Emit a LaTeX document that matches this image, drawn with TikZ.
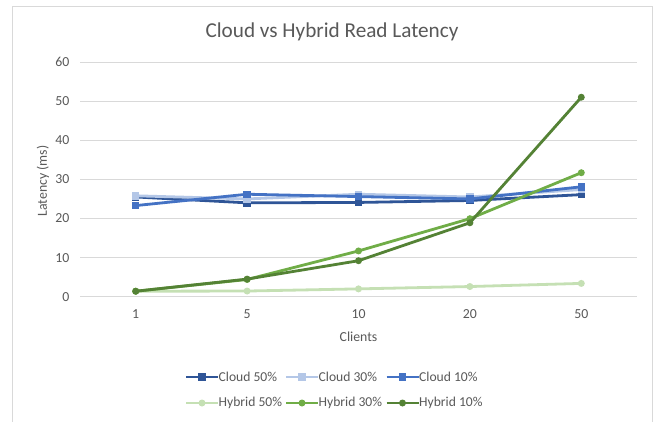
\documentclass[tikz,border=0pt]{standalone}
\usepackage{fontspec}
\setmainfont{Carlito}
\usetikzlibrary{calc}

\definecolor{txtgray}{HTML}{595959}
\definecolor{gridgray}{HTML}{D9D9D9}
\definecolor{framegray}{HTML}{D9D9D9}
\definecolor{cloudA}{HTML}{2F5597}
\definecolor{cloudB}{HTML}{B4C7E7}
\definecolor{cloudC}{HTML}{4472C4}
\definecolor{hybA}{HTML}{C5E0B4}
\definecolor{hybB}{HTML}{70AD47}
\definecolor{hybC}{HTML}{548235}

% one data series: colour, marker (sq/dot), name prefix, five values
\newcommand\plotseries[4]{%
  \foreach \v [count=\i] in {#4} {\coordinate (#3-\i) at ({px(\i)},{py(\v)});}
  \draw[serline,#1] (#3-1) -- (#3-2) -- (#3-3) -- (#3-4) -- (#3-5);
  \foreach \i in {1,...,5} {\pic[#1] at (#3-\i) {#2};}
}
% one legend entry: colour, marker, name, x, y, label
\newcommand\legentry[6]{%
  \coordinate (#3-a) at (#4,#5);
  \coordinate (#3-b) at (#4+32,#5);
  \draw[serline,#1] (#3-a) -- (#3-b);
  \pic[#1] at ($(#3-a)!0.5!(#3-b)$) {#2};
  \node[leglab,anchor=west] (#3-t) at (#4+32.5,#5) {#6};
}

\begin{document}
\begin{tikzpicture}[x=1pt,y=-1pt,
  declare function={px(\i)=80+111.4*(\i-0.5); py(\v)=296.7-3.911*\v;},
  serline/.style={line width=2.8pt,line join=round},
  sq/.pic={\fill (-3.7,-3.7) rectangle (3.7,3.7);},
  dot/.pic={\fill (0,0) circle (3.5);},
  ticklab/.style={text=txtgray,font=\fontsize{13.8}{16}\selectfont,inner sep=0pt},
  leglab/.style={text=txtgray,font=\fontsize{13.6}{16}\selectfont,inner sep=0pt},
  gridline/.style={gridgray,line width=1pt}]

\useasboundingbox (0,0) rectangle (654,421);
\fill[white] (0,0) rectangle (654,421);
\draw[framegray,line width=1pt] (12.5,6) rectangle (652,440);

% title
\node[text=txtgray,font=\fontsize{21.2}{24}\selectfont,inner sep=0pt] (title) at (332,32) {Cloud vs Hybrid Read Latency};

% horizontal gridlines and value labels
\foreach \v in {0,10,...,60} {
  \coordinate (gl\v) at (80,{py(\v)});
  \coordinate (gr\v) at (637,{py(\v)});
  \draw[gridline] (gl\v) -- (gr\v);
  \node[ticklab,anchor=east] (yl\v) at (69.5,{py(\v)}) {\v};
}

% category labels
\foreach \c [count=\i] in {1,5,10,20,50} {
  \node[ticklab] (xl\i) at ({px(\i)},314) {\c};
}

% axis titles
\node[ticklab] (xtitle) at (358.5,337) {Clients};
\node[ticklab,rotate=90] (ytitle) at (43,181) {Latency (ms)};

% data
\plotseries{cloudA}{sq}{cA}{25.5,24.0,24.1,24.6,26.1}
\plotseries{cloudB}{sq}{cB}{25.8,25.0,26.2,25.5,27.4}
\plotseries{cloudC}{sq}{cC}{23.3,26.2,25.6,25.0,28.1}
\plotseries{hybA}{dot}{hA}{1.4,1.45,2.0,2.6,3.4}
\plotseries{hybB}{dot}{hB}{1.4,4.4,11.7,19.95,31.7}
\plotseries{hybC}{dot}{hC}{1.4,4.5,9.2,18.9,51.0}

% legend
\legentry{cloudA}{sq}{lgA}{186}{377}{Cloud 50\%}
\legentry{cloudB}{sq}{lgB}{286}{377}{Cloud 30\%}
\legentry{cloudC}{sq}{lgC}{386.5}{377}{Cloud 10\%}
\legentry{hybA}{dot}{lgD}{186}{403}{Hybrid 50\%}
\legentry{hybB}{dot}{lgE}{286}{403}{Hybrid 30\%}
\legentry{hybC}{dot}{lgF}{386.5}{403}{Hybrid 10\%}
\end{tikzpicture}
\end{document}
